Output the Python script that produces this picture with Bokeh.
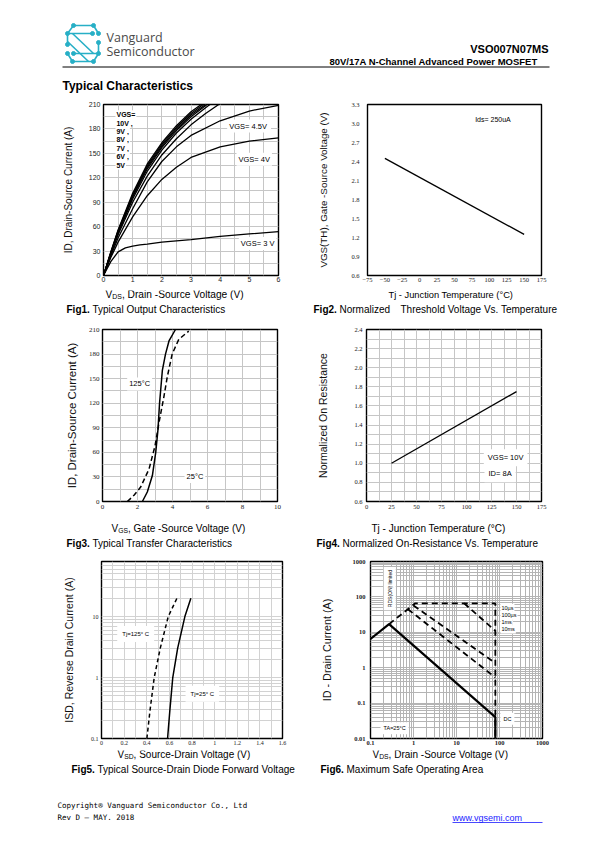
from bokeh.plotting import figure
from bokeh.models import Range1d, FixedTicker, Label, PrintfTickFormatter
from bokeh.layouts import column, row
from bokeh.embed import file_html
from bokeh.resources import INLINE
from math import pi

SANS = "Liberation Sans"
SERIF = "Liberation Serif"
MONO = "DejaVu Sans Mono"
TEAL = "#27afc6"
PAGE_W = 595

# ---------------- Fig1: output characteristics ----------------
f1_x_10v = [0, 0.25, 0.5, 1, 1.5, 2, 2.5, 3, 3.35]
f1_y_10v = [0, 29, 56, 101, 137, 163, 184, 201, 210]
f1_x_9v = [0, 0.25, 0.5, 1, 1.5, 2, 2.5, 3, 3.42]
f1_y_9v = [0, 28, 55, 99, 135, 161, 182, 199, 210]
f1_x_8v = [0, 0.25, 0.5, 1, 1.5, 2, 2.5, 3, 3.5]
f1_y_8v = [0, 28, 54, 98, 133, 159, 180, 197, 210]
f1_x_7v = [0, 0.25, 0.5, 1, 1.5, 2, 2.5, 3, 3.55]
f1_y_7v = [0, 27, 53, 96, 131, 157, 178, 195, 210]
f1_x_6v = [0, 0.25, 0.5, 1, 1.5, 2, 2.5, 3, 3.5, 3.65]
f1_y_6v = [0, 27, 52, 94, 128, 154, 175, 192, 206, 210]
f1_x_5v = [0, 0.25, 0.5, 1, 1.5, 2, 2.5, 3, 3.5, 3.95]
f1_y_5v = [0, 26, 50, 90, 122, 148, 168, 185, 199, 210]
f1_x_45v = [0, 0.25, 0.5, 1, 1.5, 2, 2.5, 3, 4, 5, 6]
f1_y_45v = [0, 24, 46, 82, 115, 140, 158, 172, 190, 202, 209]
f1_x_4v = [0, 0.25, 0.5, 1, 1.5, 2, 2.5, 3, 4, 5, 6]
f1_y_4v = [0, 22, 41, 72, 98, 118, 133, 145, 158, 165, 169]
f1_x_3v = [0, 0.25, 0.5, 0.75, 1, 1.25, 1.5, 2, 3, 4, 5, 6]
f1_y_3v = [0, 17, 29, 34, 36, 37.5, 38.5, 41, 44, 48, 51, 54]
f1_xticks = [0, 1, 2, 3, 4, 5, 6]
f1_yticks = [0, 30, 60, 90, 120, 150, 180, 210]

# ---------------- Fig2: threshold voltage vs temperature ----------------
f2_tj = [-50, 150]
f2_vth = [2.45, 1.25]
f2_xticks = [-75, -50, -25, 0, 25, 50, 75, 100, 125, 150, 175]
f2_yticks = [0.6, 0.9, 1.2, 1.5, 1.8, 2.1, 2.4, 2.7, 3.0, 3.3]

# ---------------- Fig3: transfer characteristics ----------------
f3_vgs_25 = [2.28, 2.56, 2.85, 3.04, 3.17, 3.26, 3.42, 3.6, 3.8, 4.17]
f3_id_25 = [0, 11.6, 31.7, 59.7, 87.8, 120, 160, 180, 196, 210]
f3_vgs_125 = [1.42, 1.8, 2.18, 2.66, 3.0, 3.26, 3.51, 3.7, 3.98, 4.36, 4.93]
f3_id_125 = [0, 7.6, 17.6, 39.7, 67.7, 100, 128, 152, 180, 198, 208]
f3_xticks = [0, 2, 4, 6, 8, 10]
f3_yticks = [0, 30, 60, 90, 120, 150, 180, 210]

# ---------------- Fig4: normalized on-resistance ----------------
f4_tj = [25, 150]
f4_rds = [1.0, 1.75]
f4_xticks = [0, 25, 50, 75, 100, 125, 150, 175]
f4_yticks = [0.6, 0.8, 1.0, 1.2, 1.4, 1.6, 1.8, 2.0, 2.2, 2.4]

# ---------------- Fig5: diode forward voltage ----------------
f5_vsd_25 = [0.584, 0.605, 0.63, 0.673, 0.737, 0.79]
f5_isd_25 = [0.1, 0.3, 1, 3, 10, 20]
f5_vsd_125 = [0.401, 0.43, 0.466, 0.519, 0.59, 0.667]
f5_isd_125 = [0.1, 0.3, 1, 3, 10, 20]
f5_xticks = [0, 0.2, 0.4, 0.6, 0.8, 1, 1.2, 1.4, 1.6]
f5_yticks = [0.1, 1, 10]

# ---------------- Fig6: safe operating area ----------------
f6_dc_v = [0.1, 0.27, 80, 80]
f6_dc_i = [6.5, 17, 0.04, 0.01]
f6_lim_v = [0.27, 1.1, 80, 80]
f6_lim_i = [17, 66, 66, 0.01]
f6_10us_v = [15, 80]
f6_10us_i = [66, 11]
f6_100us_v = [1.0, 80]
f6_100us_i = [57, 1.35]
f6_1ms_v = [0.74, 80]
f6_1ms_i = [45, 0.53]
f6_xticks = [0.1, 1, 10, 100, 1000]
f6_yticks = [0.01, 0.1, 1, 10, 100, 1000]


def decade_minors(lo_exp, hi_exp):
    return [m * 10.0 ** e for e in range(lo_exp, hi_exp) for m in range(2, 10)]


def chart(width, height, left, right, top, bottom, xr, yr, x_type="linear", y_type="linear"):
    p = figure(width=width, height=height, x_range=xr, y_range=yr,
               x_axis_type=x_type, y_axis_type=y_type,
               toolbar_location=None, output_backend="svg",
               min_border_left=left, min_border_right=right,
               min_border_top=top, min_border_bottom=bottom)
    p.outline_line_color = "black"
    p.outline_line_width = 1.4
    p.background_fill_color = "white"
    p.border_fill_color = "white"
    for ax in (p.xaxis[0], p.yaxis[0]):
        ax.axis_line_color = None
        ax.major_tick_line_color = None
        ax.minor_tick_line_color = None
        ax.major_tick_out = 0
        ax.major_tick_in = 0
        ax.minor_tick_out = 0
        ax.minor_tick_in = 0
        ax.major_label_text_font = SERIF
        ax.major_label_text_font_size = "7px"
        ax.major_label_text_color = "#222222"
        ax.axis_label_text_font = SANS
        ax.axis_label_text_font_style = "normal"
        ax.axis_label_text_color = "#111111"
    return p


def set_ticks(p, xt, yt, xminor=None, yminor=None, gcol="#c6c6c6", xgrid=True, ygrid=True):
    xtk = FixedTicker(ticks=xt, minor_ticks=xminor or [])
    ytk = FixedTicker(ticks=yt, minor_ticks=yminor or [])
    p.xaxis[0].ticker = xtk
    p.yaxis[0].ticker = ytk
    p.xgrid[0].ticker = xtk
    p.ygrid[0].ticker = ytk
    for g, on in ((p.xgrid[0], xgrid), (p.ygrid[0], ygrid)):
        if on:
            g.grid_line_color = gcol
            g.minor_grid_line_color = gcol
            g.grid_line_width = 1
            g.minor_grid_line_width = 1
        else:
            g.grid_line_color = None


def lab(p, x, y, s, size, font=SANS, style="normal", align="left", color="black",
        angle=0, bg=None, pad=0, baseline="middle"):
    L = Label(x=x, y=y, text=s, text_font=font, text_font_size=f"{size}px",
              text_font_style=style, text_align=align, text_baseline=baseline,
              text_color=color, angle=angle)
    if bg:
        L.background_fill_color = bg
        L.padding = pad
    p.add_layout(L)


def ylabel(p, text, size, standoff):
    p.yaxis[0].axis_label = text
    p.yaxis[0].axis_label_text_font_size = f"{size}px"
    p.yaxis[0].axis_label_standoff = standoff


def band(height, y_top):
    p = figure(width=PAGE_W, height=height, x_range=Range1d(0, PAGE_W),
               y_range=Range1d(y_top + height, y_top),
               toolbar_location=None, output_backend="svg",
               x_axis_location=None, y_axis_location=None, min_border=0)
    p.grid.visible = False
    p.outline_line_color = None
    p.background_fill_color = "white"
    p.border_fill_color = "white"
    return p


# ---------------- header ----------------
hdr = band(97, 0)
logo_xs = [[73, 93], [73, 67], [93, 98], [67, 67], [67, 92], [72, 93], [67, 72], [93, 98],
           [98, 98], [73, 98], [72, 93], [67, 88]]
logo_ys = [[25, 25], [25, 33], [25, 33], [33, 44], [33, 33], [61, 61], [53, 61], [61, 53],
           [53, 42], [53, 53], [33, 53], [41, 61]]
hdr.multi_line(logo_xs, logo_ys, line_color=TEAL, line_width=1.6)
hdr.scatter([73, 93, 67, 98, 67, 72, 93, 98, 67, 98, 92, 73],
            [25, 25, 33, 33, 44, 61, 61, 53, 53, 42, 33, 53],
            size=4, color=TEAL)
lab(hdr, 106, 37, "Vanguard", 12.5, font="Open Sans", color="#4a4a4a")
lab(hdr, 106, 51, "Semiconductor", 12.5, font="Open Sans", color="#4a4a4a")
lab(hdr, 548, 48, "VSO007N07MS", 11, style="bold", align="right")
lab(hdr, 548, 61, "80V/17A  N-Channel  Advanced  Power  MOSFET", 9.5, style="bold", align="right")
hdr.line([62, 549], [66.5, 66.5], line_color="black", line_width=1)
lab(hdr, 62, 85, "Typical Characteristics", 12, style="bold")

# ---------------- Fig1 ----------------
p1 = chart(300, 193, 103, 22, 5, 12, Range1d(0, 6), Range1d(0, 210))
set_ticks(p1, f1_xticks, f1_yticks, [0.5, 1.5, 2.5, 3.5, 4.5, 5.5],
          [15, 45, 75, 105, 135, 165, 195])
p1.xaxis[0].major_label_text_font = SANS
p1.yaxis[0].major_label_text_font = SANS
p1.xaxis[0].major_label_standoff = 1
p1.yaxis[0].major_label_standoff = 3
ylabel(p1, "ID, Drain-Source Current (A)", 10, 12)
for xs, ys in ((f1_x_10v, f1_y_10v), (f1_x_9v, f1_y_9v), (f1_x_8v, f1_y_8v),
               (f1_x_7v, f1_y_7v), (f1_x_6v, f1_y_6v), (f1_x_5v, f1_y_5v),
               (f1_x_45v, f1_y_45v), (f1_x_4v, f1_y_4v), (f1_x_3v, f1_y_3v)):
    p1.line(xs, ys, line_color="black", line_width=1.3, line_join="round")
for i, t in enumerate(["VGS=", "10V ,", "9V ,", "8V ,", "7V ,", "6V ,", "5V"]):
    lab(p1, 0.41, 197.5 - i * 10.3, t, 7, style="bold", bg="white", pad=1)
lab(p1, 4.24, 183.5, "VGS=  4.5V", 7.5, bg="white", pad=2)
lab(p1, 4.56, 142.8, "VGS= 4V", 7.5, bg="white", pad=2)
lab(p1, 4.64, 39.4, "VGS= 3 V", 7.5, bg="white", pad=2)

# ---------------- Fig2 ----------------
p2 = chart(295, 193, 67, 54, 7, 15, Range1d(-75, 175), Range1d(0.6, 3.3))
set_ticks(p2, f2_xticks, f2_yticks, xgrid=False, ygrid=False)
p2.yaxis[0].formatter = PrintfTickFormatter(format="%.1f")
p2.xaxis[0].major_label_standoff = 2
p2.yaxis[0].major_label_standoff = 8
p2.xaxis[0].major_label_text_font_size = "6.5px"
p2.yaxis[0].major_label_text_font_size = "6.5px"
ylabel(p2, "VGS(TH), Gate -Source Voltage (V)", 9.8, 19)
p2.line(f2_tj, f2_vth, line_color="black", line_width=1.3)
lab(p2, 75.4, 3.06, "Ids=  250uA", 7, bg="white", pad=3)

# ---------------- Fig3 ----------------
p3 = chart(300, 198, 102, 23, 8, 15, Range1d(0, 10), Range1d(0, 210))
set_ticks(p3, f3_xticks, f3_yticks, [1, 3, 5, 7, 9], [15, 45, 75, 105, 135, 165, 195])
p3.xaxis[0].major_label_standoff = 3
p3.yaxis[0].major_label_standoff = 3
ylabel(p3, "ID, Drain-Source Current (A)", 11.5, 8)
p3.line(f3_vgs_25, f3_id_25, line_color="black", line_width=1.5, line_join="round")
p3.line(f3_vgs_125, f3_id_125, line_color="black", line_width=1.5, line_dash="5 3",
        line_join="round")
lab(p3, 1.41, 143.6, "125°C", 7.5, bg="white", pad=2)
lab(p3, 4.69, 30.4, "25°C", 7.5, bg="white", pad=2)

# ---------------- Fig4 ----------------
p4 = chart(295, 198, 66, 54, 9, 17, Range1d(0, 175), Range1d(0.6, 2.4))
set_ticks(p4, f4_xticks, f4_yticks, [12.5, 37.5, 62.5, 87.5, 112.5, 137.5, 162.5],
          [0.7, 0.9, 1.1, 1.3, 1.5, 1.7, 1.9, 2.1, 2.3])
p4.yaxis[0].formatter = PrintfTickFormatter(format="%.1f")
p4.xaxis[0].major_label_standoff = 3
p4.yaxis[0].major_label_standoff = 4
p4.xaxis[0].major_label_text_font_size = "6.5px"
p4.yaxis[0].major_label_text_font_size = "6.5px"
ylabel(p4, "Normalized On Resistance", 10.5, 22)
p4.line(f4_tj, f4_rds, line_color="black", line_width=1.3)
lab(p4, 117.3, 1.057, "VGS= 10V", 7.5, bg="white", pad=4)
lab(p4, 118, 0.89, "ID= 8A", 7.5, bg="white", pad=4)

# ---------------- Fig5 ----------------
p5 = chart(300, 198, 101, 18, 9, 12, Range1d(0, 1.6), Range1d(0.1, 80), y_type="log")
set_ticks(p5, f5_xticks, f5_yticks, [0.1, 0.3, 0.5, 0.7, 0.9, 1.1, 1.3, 1.5],
          decade_minors(-1, 2), gcol="#d2d2d2")
p5.xaxis[0].formatter = PrintfTickFormatter(format="%g")
p5.yaxis[0].formatter = PrintfTickFormatter(format="%g")
p5.xaxis[0].major_label_standoff = 2
p5.yaxis[0].major_label_standoff = 3
p5.xaxis[0].major_label_text_font_size = "6px"
p5.yaxis[0].major_label_text_font_size = "6px"
ylabel(p5, "ISD, Reverse Drain Current (A)", 10.5, 13)
p5.line(f5_vsd_25, f5_isd_25, line_color="black", line_width=1.5)
p5.line(f5_vsd_125, f5_isd_125, line_color="black", line_width=1.5, line_dash="4 3")
lab(p5, 0.139, 5.2, "Tj=125° C", 6, bg="white", pad=5)
lab(p5, 0.743, 0.54, "Tj=25° C", 6, bg="white", pad=5)

# ---------------- Fig6 ----------------
p6 = chart(295, 198, 70, 53, 9, 12, Range1d(0.1, 1000), Range1d(0.01, 1000),
           x_type="log", y_type="log")
set_ticks(p6, f6_xticks, f6_yticks, decade_minors(-1, 3), decade_minors(-2, 3), gcol="#b4b4b4")
p6.xaxis[0].formatter = PrintfTickFormatter(format="%g")
p6.yaxis[0].formatter = PrintfTickFormatter(format="%g")
p6.xaxis[0].major_label_standoff = 2
p6.yaxis[0].major_label_standoff = 5
p6.xaxis[0].major_label_text_font_size = "6.5px"
p6.yaxis[0].major_label_text_font_size = "6.5px"
p6.xaxis[0].major_label_text_font_style = "bold"
p6.yaxis[0].major_label_text_font_style = "bold"
ylabel(p6, "ID - Drain Current (A)", 10.8, 17)
p6.line(f6_dc_v, f6_dc_i, line_color="black", line_width=2.2)
for xs, ys in ((f6_lim_v, f6_lim_i), (f6_10us_v, f6_10us_i),
               (f6_100us_v, f6_100us_i), (f6_1ms_v, f6_1ms_i)):
    p6.line(xs, ys, line_color="black", line_width=1.8, line_dash="6 4")
lab(p6, 0.28, 172, "RDS(ON) limited", 5, angle=pi / 2, align="center", bg="white", pad=3)
for t, yv in (("10µs", 49), ("100µs", 29.9), ("1ms", 19.3), ("10ms", 12)):
    lab(p6, 105, yv, t, 5.5, bg="white", pad=1)
lab(p6, 105, 0.036, "DC", 5.5, bg="white", pad=3)
lab(p6, 0.171, 0.0195, "TA=25°C", 5.5, bg="white", pad=3)

# ---------------- text bands (x labels + captions) ----------------
AW = {"V": 0.667, "D": 0.722, "S": 0.667, "G": 0.778}


def sub_label(p, x, y, main, sub, rest, size):
    lab(p, x, y, main, size)
    x2 = x + AW[main] * size
    lab(p, x2, y + 0.22 * size, sub, size * 0.68)
    x3 = x2 + sum(AW[c] for c in sub) * size * 0.68
    lab(p, x3, y, rest, size)


def caption(p, x, y, num, text, size=10):
    lab(p, x, y, f"Fig{num}.", size, style="bold")
    lab(p, x + 2.6 * size, y, text, size)


b1 = band(30, 290)
sub_label(b1, 105, 294, "V", "DS", ", Drain -Source Voltage (V)", 10.2)
lab(b1, 388, 294, "Tj - Junction Temperature (°C)", 9.3)
caption(b1, 66, 309, 1, "Typical Output Characteristics")
caption(b1, 313, 309, 2, "Normalized")
lab(b1, 400, 309, "Threshold Voltage Vs. Temperature", 10)

b2 = band(34, 518)
sub_label(b2, 111, 528, "V", "GS", ", Gate -Source Voltage (V)", 10)
lab(b2, 371, 528, "Tj - Junction Temperature (°C)", 10)
caption(b2, 66, 542.5, 3, "Typical Transfer Characteristics")
caption(b2, 316, 542.5, 4, "Normalized On-Resistance Vs. Temperature")

b3 = band(28, 750)
sub_label(b3, 117, 754, "V", "SD", ", Source-Drain Voltage (V)", 10)
sub_label(b3, 372, 754, "V", "DS", ", Drain -Source Voltage (V)", 10)
caption(b3, 71, 768.5, 5, "Typical Source-Drain Diode Forward Voltage")
caption(b3, 320, 768.5, 6, "Maximum Safe Operating Area")

foot = band(64, 778)
lab(foot, 57, 805, "Copyright® Vanguard Semiconductor Co., Ltd", 7.5, font=MONO)
lab(foot, 57, 817, "Rev D – MAY. 2018", 7.5, font=MONO)
lab(foot, 452, 817, "www.vgsemi.com", 9, color="#1a1aff")
foot.line([452, 542], [822, 822], line_color="#1a1aff", line_width=0.8)

page = column(hdr, row(p1, p2), b1, row(p3, p4), b2, row(p5, p6), b3, foot)
open("out.html", "w").write(file_html(page, INLINE))
